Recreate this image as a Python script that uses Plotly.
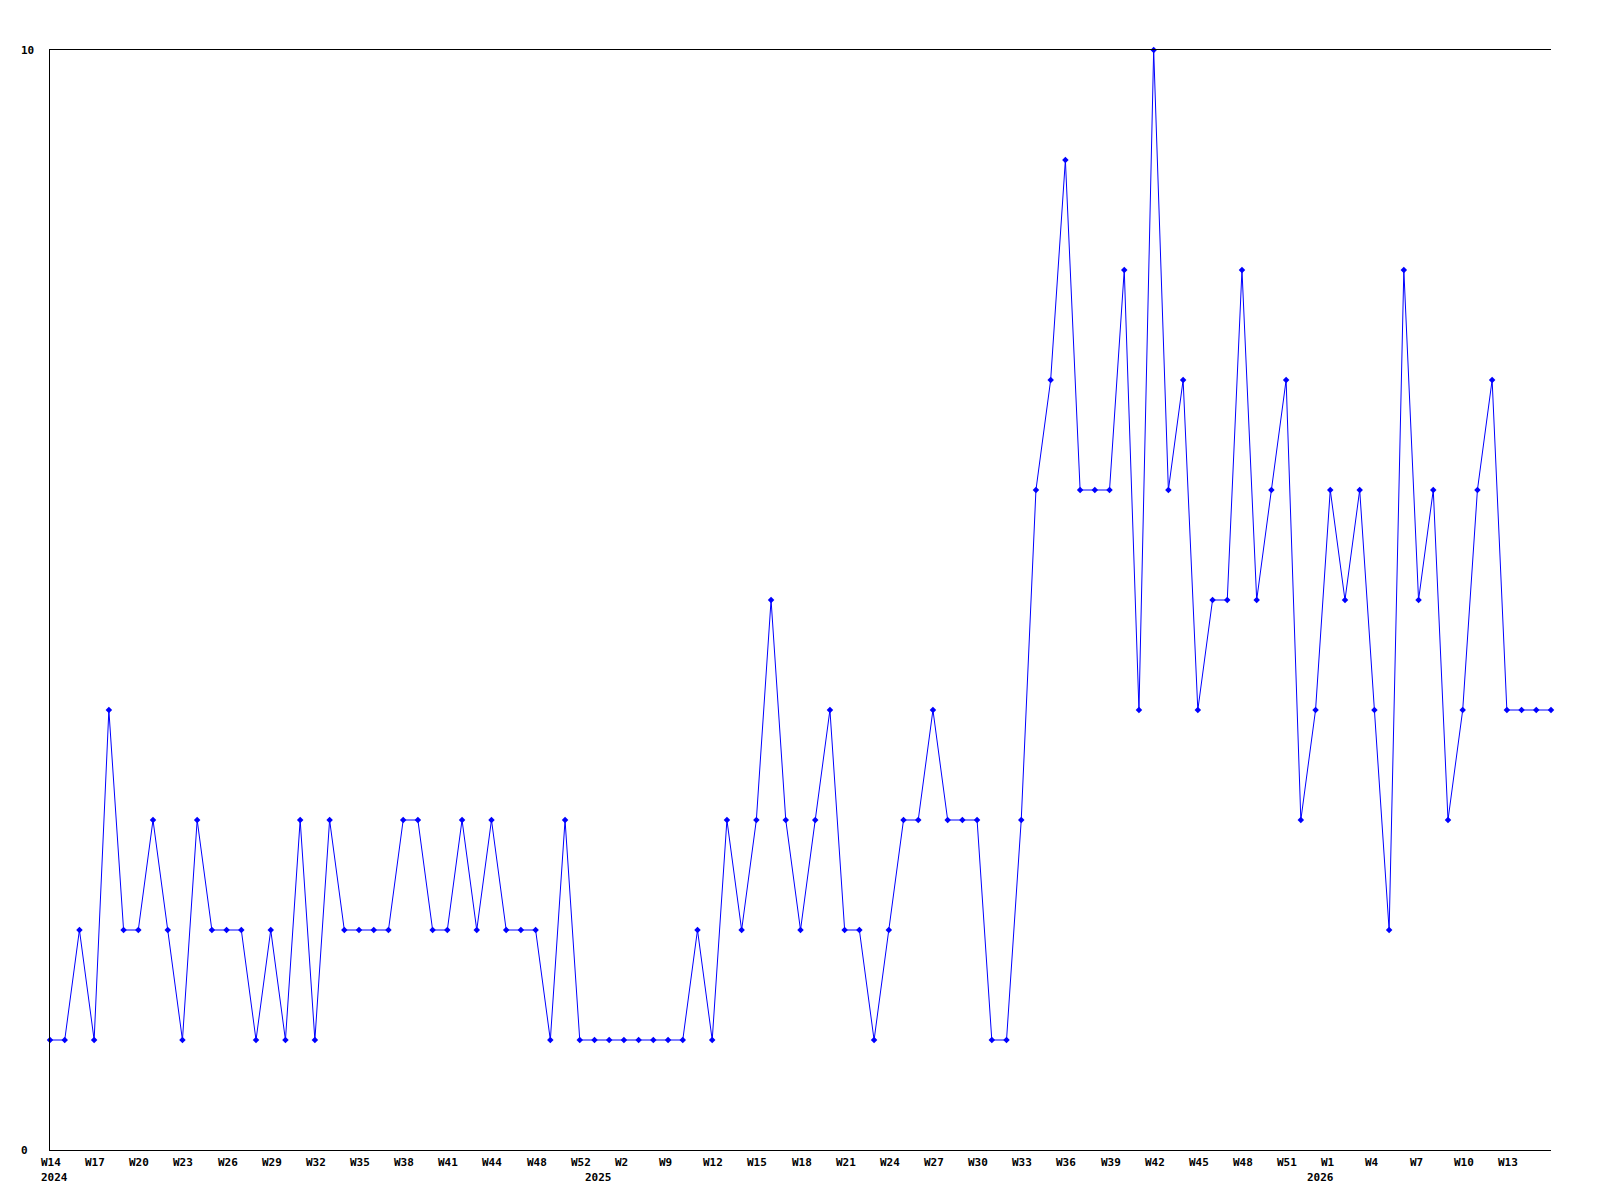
import plotly.graph_objects as go

# Weekly values, one per point (103 points)
values = [
    1, 1, 2, 1, 4, 2, 2, 3, 2, 1,
    3, 2, 2, 2, 1, 2, 1, 3, 1, 3,
    2, 2, 2, 2, 3, 3, 2, 2, 3, 2,
    3, 2, 2, 2, 1, 3, 1, 1, 1, 1,
    1, 1, 1, 1, 2, 1, 3, 2, 3, 5,
    3, 2, 3, 4, 2, 2, 1, 2, 3, 3,
    4, 3, 3, 3, 1, 1, 3, 6, 7, 9,
    6, 6, 6, 8, 4, 10, 6, 7, 4, 5,
    5, 8, 5, 6, 7, 3, 4, 6, 5, 6,
    4, 2, 8, 5, 6, 3, 4, 6, 7, 4,
    4, 4, 4,
]
x_index = list(range(len(values)))

# Week tick labels, placed every third point
week_labels = [
    "W14", "W17", "W20", "W23", "W26", "W29", "W32", "W35", "W38", "W41",
    "W44", "W48", "W52", "W2", "W9", "W12", "W15", "W18", "W21", "W24",
    "W27", "W30", "W33", "W36", "W39", "W42", "W45", "W48", "W51", "W1",
    "W4", "W7", "W10", "W13",
]
week_positions = [3 * i for i in range(len(week_labels))]

year_labels = ["2024", "2025", "2026"]
year_positions = [0, 37, 86]

y_labels = ["0", "10"]
y_positions = [0, 10]

FONT = dict(family="DejaVu Sans Mono", size=11, color="black", weight="bold")

fig = go.Figure()
fig.add_trace(go.Scatter(
    x=x_index, y=values, mode="lines+markers",
    line=dict(color="#0000ff", width=1),
    marker=dict(symbol="diamond", size=5, color="#0000ff"),
    cliponaxis=False, hoverinfo="x+y", showlegend=False,
))

annotations = []
for pos, lab in zip(week_positions, week_labels):
    annotations.append(dict(x=pos, y=0, xref="x", yref="paper", text=lab,
                            xanchor="left", yanchor="middle", xshift=-11, yshift=-12,
                            showarrow=False, font=FONT))
for pos, lab in zip(year_positions, year_labels):
    annotations.append(dict(x=pos, y=0, xref="x", yref="paper", text=lab,
                            xanchor="left", yanchor="middle", xshift=-11, yshift=-27,
                            showarrow=False, font=FONT))
for pos, lab in zip(y_positions, y_labels):
    annotations.append(dict(x=-0.0205, y=pos, xref="paper", yref="y", text=lab,
                            xanchor="left", yanchor="middle",
                            showarrow=False, font=FONT))

# page body has an 8px default margin, so the figure is offset by it
fig.update_layout(
    width=1584, height=1184,
    margin=dict(l=42, r=41, t=42, b=42),
    paper_bgcolor="white", plot_bgcolor="white",
    annotations=annotations,
    xaxis=dict(range=[0, len(values) - 1], showgrid=False, zeroline=False,
               showline=True, linecolor="black", linewidth=1, mirror=True,
               showticklabels=False, ticks=""),
    yaxis=dict(range=[0, 10], showgrid=False, zeroline=False,
               showline=True, linecolor="black", linewidth=1,
               showticklabels=False, ticks=""),
)

fig.write_html("out.html")
